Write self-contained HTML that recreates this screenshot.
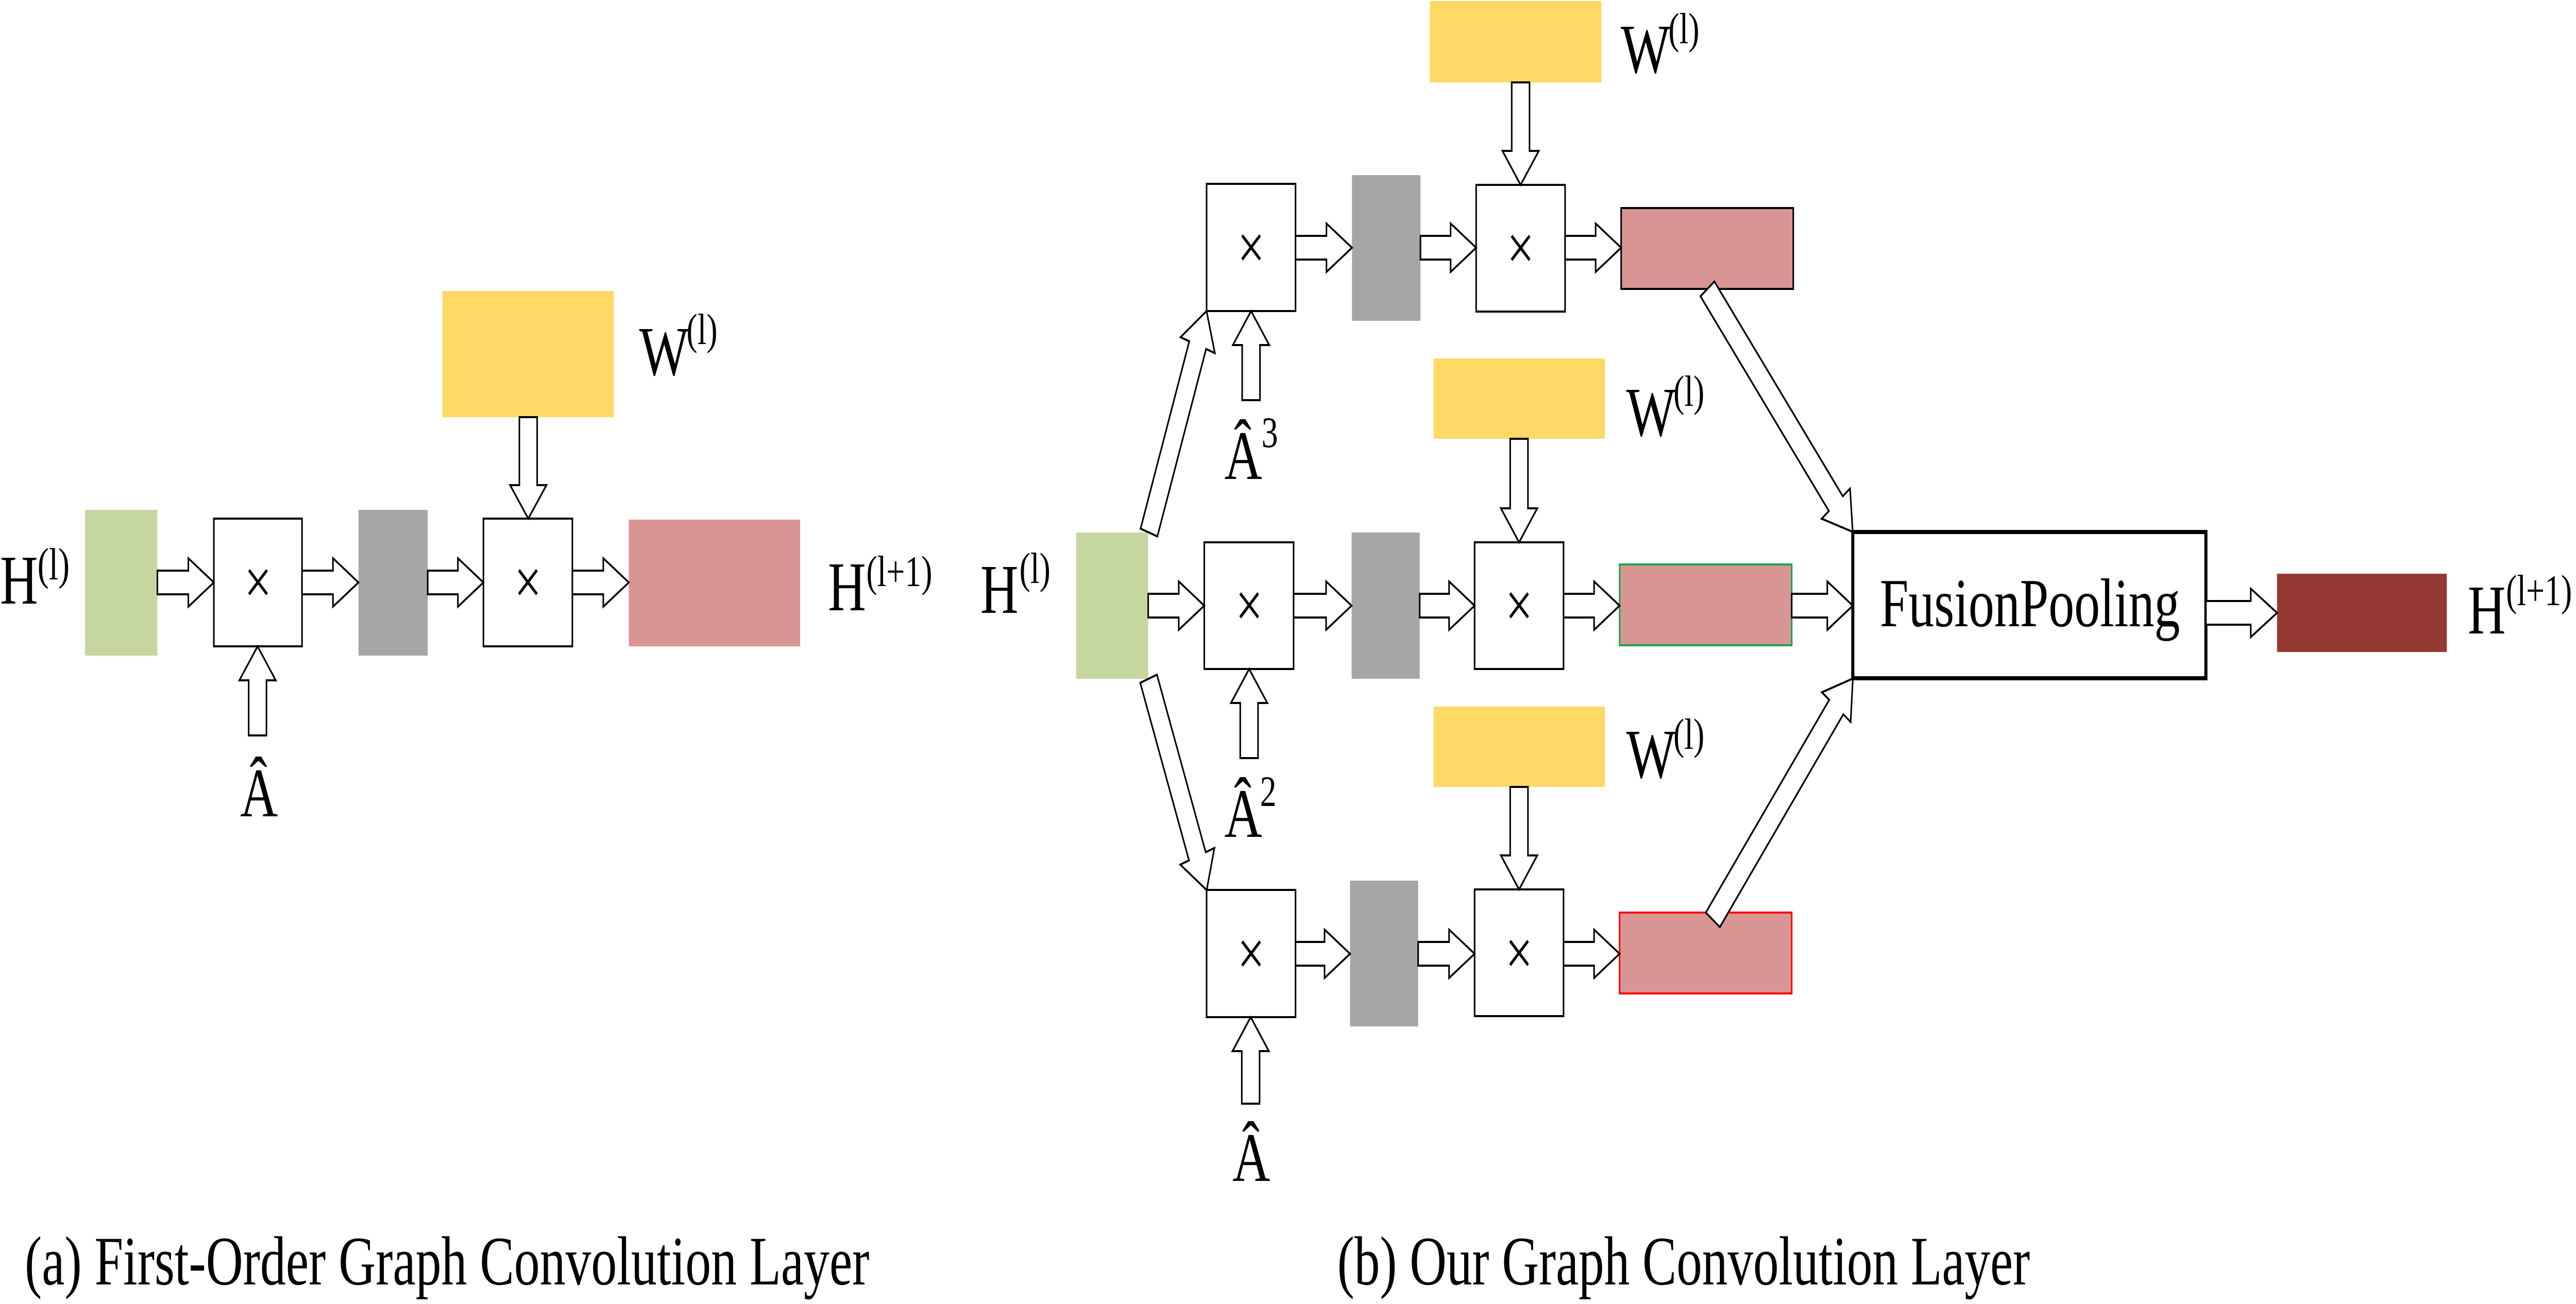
<!DOCTYPE html>
<html><head><meta charset="utf-8"><style>
html,body{margin:0;padding:0;background:#fff;overflow:hidden;width:100%;height:100%;}
svg{display:block;position:absolute;left:0;top:0;width:100vw;height:100vh;}
text{font-family:"Liberation Serif","DejaVu Serif",serif;fill:#000;}
</style></head><body>
<svg viewBox="0 0 6661 2532" preserveAspectRatio="none" xmlns="http://www.w3.org/2000/svg">
<rect width="6661" height="2532" fill="#fff"/>

<!-- ===== (a) ===== -->
<rect x="1144" y="565" width="443" height="245" fill="#fed966"/>
<rect x="220" y="990" width="187" height="283" fill="#c5d6a0"/>
<rect x="553" y="1007" width="228" height="248" fill="#fff" stroke="#000" stroke-width="4"/>
<rect x="927" y="990" width="179" height="283" fill="#a6a6a6"/>
<rect x="1250" y="1007" width="230" height="248" fill="#fff" stroke="#000" stroke-width="4"/>
<rect x="1626" y="1009" width="443" height="246" fill="#d99594"/>
<text x="667" y="1172" font-size="125" text-anchor="middle">×</text>
<text x="1365" y="1172" font-size="125" text-anchor="middle">×</text>

<g fill="#fff" stroke="#000" stroke-width="4" stroke-linejoin="miter">
<polygon transform="translate(407,1131)" points="0,-23 80,-23 80,-47 146,0 80,47 80,23 0,23"/>
<polygon transform="translate(781,1131)" points="0,-23 80,-23 80,-47 146,0 80,47 80,23 0,23"/>
<polygon transform="translate(1106,1131)" points="0,-23 78,-23 78,-47 144,0 78,47 78,23 0,23"/>
<polygon transform="translate(1480,1131)" points="0,-23 80,-23 80,-47 146,0 80,47 80,23 0,23"/>
<polygon transform="translate(1366,810) rotate(90)" points="0,-23 132,-23 132,-47 197,0 132,47 132,23 0,23"/>
<polygon transform="translate(666,1428) rotate(-90)" points="0,-23 107,-23 107,-47 173,0 107,47 107,23 0,23"/>
</g>

<text x="0" y="1172" font-size="136">H</text>
<text x="97" y="1125" font-size="88">(l)</text>
<text x="1653" y="728" font-size="136">W</text>
<text x="1775" y="668" font-size="85">(l)</text>
<text x="2141" y="1185" font-size="136">H</text>
<text x="2240" y="1138" font-size="85">(l+1)</text>
<text x="621" y="1585" font-size="135">Â</text>

<!-- ===== (b) ===== -->
<rect x="3697" y="2" width="444" height="158" fill="#fed966"/>
<rect x="3707" y="696" width="443" height="156" fill="#fed966"/>
<rect x="3707" y="1372" width="443" height="156" fill="#fed966"/>
<rect x="2783" y="1034" width="186" height="284" fill="#c5d6a0"/>

<rect x="3120" y="357" width="230" height="247" fill="#fff" stroke="#000" stroke-width="4"/>
<rect x="3496" y="340" width="177" height="283" fill="#a6a6a6"/>
<rect x="3817" y="359" width="230" height="246" fill="#fff" stroke="#000" stroke-width="4"/>
<rect x="4192" y="404" width="445" height="157" fill="#d99594" stroke="#000" stroke-width="4"/>

<rect x="3114" y="1053" width="231" height="246" fill="#fff" stroke="#000" stroke-width="4"/>
<rect x="3495" y="1034" width="176" height="284" fill="#a6a6a6"/>
<rect x="3813" y="1053" width="230" height="246" fill="#fff" stroke="#000" stroke-width="4"/>
<rect x="4188" y="1096" width="445" height="157" fill="#d99594" stroke="#1aa64a" stroke-width="4"/>

<rect x="3120" y="1728" width="230" height="247" fill="#fff" stroke="#000" stroke-width="4"/>
<rect x="3491" y="1710" width="176" height="283" fill="#a6a6a6"/>
<rect x="3813" y="1727" width="230" height="246" fill="#fff" stroke="#000" stroke-width="4"/>
<rect x="4188" y="1772" width="445" height="157" fill="#d99594" stroke="#ff0000" stroke-width="4"/>

<rect x="4791" y="1033" width="913" height="284" fill="#fff" stroke="#000" stroke-width="8"/>
<rect x="5888" y="1114" width="439" height="152" fill="#943a33"/>

<text x="3235" y="522" font-size="125" text-anchor="middle">×</text>
<text x="3932" y="523" font-size="125" text-anchor="middle">×</text>
<text x="3230" y="1217" font-size="125" text-anchor="middle">×</text>
<text x="3928" y="1217" font-size="125" text-anchor="middle">×</text>
<text x="3235" y="1893" font-size="125" text-anchor="middle">×</text>
<text x="3928" y="1892" font-size="125" text-anchor="middle">×</text>

<g fill="#fff" stroke="#000" stroke-width="4" stroke-linejoin="miter">
<polygon transform="translate(3350,481)" points="0,-23 80,-23 80,-47 146,0 80,47 80,23 0,23"/>
<polygon transform="translate(3673,481)" points="0,-23 78,-23 78,-47 144,0 78,47 78,23 0,23"/>
<polygon transform="translate(4047,481)" points="0,-23 79,-23 79,-47 145,0 79,47 79,23 0,23"/>
<polygon transform="translate(3932,160) rotate(90)" points="0,-23 133,-23 133,-47 199,0 133,47 133,23 0,23"/>
<polygon transform="translate(3235,777) rotate(-90)" points="0,-23 107,-23 107,-47 173,0 107,47 107,23 0,23"/>
<polygon transform="translate(2969,1176)" points="0,-23 79,-23 79,-47 145,0 79,47 79,23 0,23"/>
<polygon transform="translate(3345,1176)" points="0,-23 84,-23 84,-47 150,0 84,47 84,23 0,23"/>
<polygon transform="translate(3671,1176)" points="0,-23 76,-23 76,-47 142,0 76,47 76,23 0,23"/>
<polygon transform="translate(4043,1176)" points="0,-23 79,-23 79,-47 145,0 79,47 79,23 0,23"/>
<polygon transform="translate(4633,1176)" points="0,-23 92,-23 92,-47 158,0 92,47 92,23 0,23"/>
<polygon transform="translate(3928,852) rotate(90)" points="0,-23 135,-23 135,-47 201,0 135,47 135,23 0,23"/>
<polygon transform="translate(3230,1472) rotate(-90)" points="0,-23 107,-23 107,-47 173,0 107,47 107,23 0,23"/>
<polygon transform="translate(3350,1852)" points="0,-23 75,-23 75,-47 141,0 75,47 75,23 0,23"/>
<polygon transform="translate(3667,1852)" points="0,-23 80,-23 80,-47 146,0 80,47 80,23 0,23"/>
<polygon transform="translate(4043,1852)" points="0,-23 79,-23 79,-47 145,0 79,47 79,23 0,23"/>
<polygon transform="translate(3928,1528) rotate(90)" points="0,-23 133,-23 133,-47 199,0 133,47 133,23 0,23"/>
<polygon transform="translate(3234,2143) rotate(-90)" points="0,-23 102,-23 102,-47 168,0 102,47 102,23 0,23"/>
<polygon transform="translate(5704,1190)" points="0,-23 116,-23 116,-47 184,0 116,47 116,23 0,23"/>
<polygon transform="translate(2971,1034) rotate(-70.9)" points="0,-23 385,-23 385,-47 455,0 385,47 385,23 0,23"/>
<polygon transform="translate(2970,1318) rotate(69.9)" points="0,-23 367,-23 367,-47 437,0 367,47 367,23 0,23"/>
<polygon transform="translate(4415,561) rotate(51.46)" points="0,-23 533,-23 533,-47 603,0 533,47 533,23 0,23"/>
<polygon transform="translate(4429,1786) rotate(-52.3)" points="0,-23 522,-23 522,-47 592,0 522,47 522,23 0,23"/>
</g>

<text x="2535" y="1190" font-size="136">H</text>
<text x="2636" y="1132" font-size="85">(l)</text>
<text x="4191" y="141" font-size="136">W</text>
<text x="4314" y="84" font-size="85">(l)</text>
<text x="4205" y="846" font-size="136">W</text>
<text x="4327" y="788" font-size="85">(l)</text>
<text x="4205" y="1510" font-size="136">W</text>
<text x="4327" y="1454" font-size="85">(l)</text>
<text x="3166" y="930" font-size="135">Â</text>
<text x="3262" y="868" font-size="85">3</text>
<text x="3166" y="1625" font-size="135">Â</text>
<text x="3258" y="1565" font-size="85">2</text>
<text x="3187" y="2293" font-size="135">Â</text>
<text x="4861" y="1216" font-size="134" textLength="776" lengthAdjust="spacingAndGlyphs">FusionPooling</text>
<text x="6381" y="1230" font-size="136">H</text>
<text x="6480" y="1175" font-size="85">(l+1)</text>

<text x="64" y="2494" font-size="135" textLength="2184" lengthAdjust="spacingAndGlyphs">(a) First-Order Graph Convolution Layer</text>
<text x="3458" y="2494" font-size="135" textLength="1791" lengthAdjust="spacingAndGlyphs">(b) Our Graph Convolution Layer</text>
</svg>
</body></html>
